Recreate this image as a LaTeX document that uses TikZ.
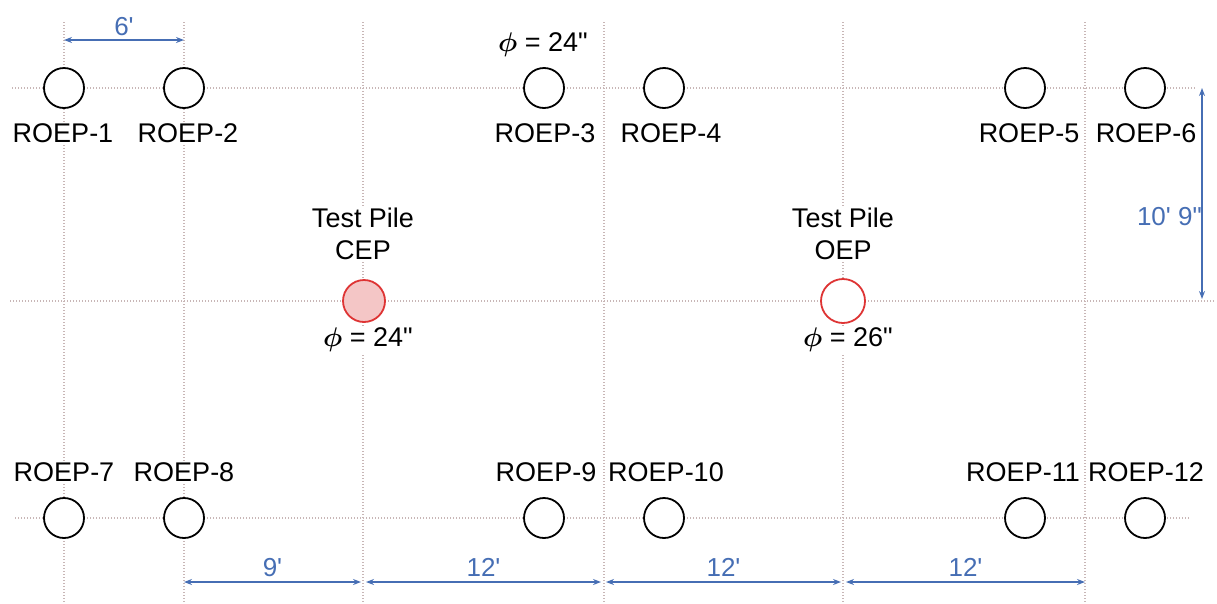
\RequirePackage{fix-cm}
\documentclass[tikz,border=0pt]{standalone}
\usepackage{fontspec}
\setmainfont{Liberation Sans}
\usetikzlibrary{arrows.meta}
\definecolor{gridc}{RGB}{200,182,182}
\definecolor{dimc}{RGB}{70,110,180}
\definecolor{pilered}{RGB}{222,52,52}
\definecolor{pilepink}{RGB}{244,198,198}
\newcommand{\phisym}{{\boldmath$\phi$}}
\begin{document}
\begin{tikzpicture}[x=1pt,y=-1pt,
 gridline/.style={draw=gridc, line width=1.3pt, dash pattern=on 1.3pt off 1.7pt},
 pile/.style={circle, draw=black, line width=1.8pt, fill=white, minimum size=40pt, inner sep=0pt},
 testpile/.style={circle, draw=pilered, line width=1.8pt, minimum size=42pt, inner sep=0pt},
 lbl/.style={font=\fontsize{27}{32}\selectfont, fill=white, inner sep=1pt, align=center},
 dimlbl/.style={font=\fontsize{26}{30}\selectfont, text=dimc, inner sep=1pt},
 dimarrow/.style={draw=dimc, line width=1.3pt, {Stealth[length=8pt,width=6pt]}-{Stealth[length=8pt,width=6pt]}},
]
\useasboundingbox (0,0) rectangle (1217,603);
% grid
\foreach \x in {64,184,363,604,843,1085} \draw[gridline] (\x,22) -- (\x,603);
\draw[gridline] (12,88) -- (1195,88);
\draw[gridline] (10,301) -- (1215,301);
\draw[gridline] (15,518) -- (1190,518);
% labels
\node[lbl] (l1) at (63,133) {ROEP-1};
\node[lbl] (l2) at (188,133) {ROEP-2};
\node[lbl] (l3) at (545,133) {ROEP-3};
\node[lbl] (l4) at (671,133) {ROEP-4};
\node[lbl] (l5) at (1029,133) {ROEP-5};
\node[lbl] (l6) at (1146,133) {ROEP-6};
\node[lbl] (l7) at (64,472) {ROEP-7};
\node[lbl] (l8) at (184,472) {ROEP-8};
\node[lbl] (l9) at (546,472) {ROEP-9};
\node[lbl] (l10) at (666,472) {ROEP-10};
\node[lbl] (l11) at (1023,472) {ROEP-11};
\node[lbl] (l12) at (1146,472) {ROEP-12};
\node[lbl] (phitop) at (543,45) {\phisym{} = 24\textquotedbl};
\node[lbl] (tcep) at (363,234) {Test Pile\\CEP};
\node[lbl] (toep) at (843,234) {Test Pile\\OEP};
\node[lbl] (phicep) at (368,340) {\phisym{} = 24\textquotedbl};
\node[lbl] (phioep) at (848,340) {\phisym{} = 26\textquotedbl};
% piles
\node[pile] (p1) at (64,88) {};
\node[pile] (p2) at (184,88) {};
\node[pile] (p3) at (544,88) {};
\node[pile] (p4) at (664,88) {};
\node[pile] (p5) at (1025,88) {};
\node[pile] (p6) at (1145,88) {};
\node[pile] (p7) at (64,518) {};
\node[pile] (p8) at (184,518) {};
\node[pile] (p9) at (544,518) {};
\node[pile] (p10) at (664,518) {};
\node[pile] (p11) at (1025,518) {};
\node[pile] (p12) at (1145,518) {};
\node[testpile, fill=pilepink] (cep) at (364,301) {};
\node[testpile, fill=white, minimum size=44pt] (oep) at (843,301) {};
% dimensions
\coordinate (d6a) at (64,40);
\coordinate (d6b) at (184,40);
\draw[dimarrow] (d6a) -- node[dimlbl, above=3pt] (t6) {6\textquotesingle} (d6b);
\coordinate (va) at (1202,88);
\coordinate (vb) at (1202,299);
\draw[dimarrow] (va) -- (vb);
\node[dimlbl, anchor=east] (tv) at (1203,217) {10\textquotesingle\ 9\textquotedbl};
\coordinate (b1) at (184,582);
\coordinate (b2a) at (361,582);
\coordinate (b2b) at (366,582);
\coordinate (b3a) at (601,582);
\coordinate (b3b) at (606,582);
\coordinate (b4a) at (841,582);
\coordinate (b4b) at (846,582);
\coordinate (b5) at (1085,582);
\draw[dimarrow] (b1) -- node[dimlbl, above=4pt] (t9) {9\textquotesingle} (b2a);
\draw[dimarrow] (b2b) -- node[dimlbl, above=4pt] (t12a) {12\textquotesingle} (b3a);
\draw[dimarrow] (b3b) -- node[dimlbl, above=4pt] (t12b) {12\textquotesingle} (b4a);
\draw[dimarrow] (b4b) -- node[dimlbl, above=4pt] (t12c) {12\textquotesingle} (b5);
\end{tikzpicture}
\end{document}
